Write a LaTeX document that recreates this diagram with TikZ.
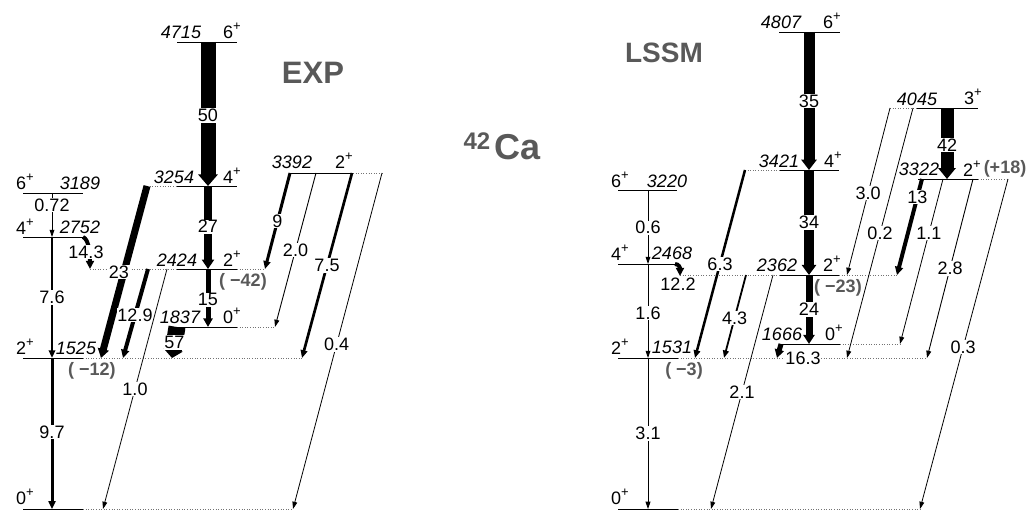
\documentclass[tikz,border=0pt]{standalone}
\usepackage{fontspec}
\setmainfont{Liberation Sans}
\usetikzlibrary{arrows.meta}
\definecolor{lgray}{gray}{0.35}
\newcommand\jp[1]{#1\raisebox{0.45em}{\fontsize{13}{13}\selectfont +}}
\begin{document}
\begin{tikzpicture}[x=1pt,y=-1pt,
  lvl/.style={line width=0.9pt},
  dotl/.style={dotted, line width=0.6pt, black!55},
  tr/.style={line width=#1, -{Triangle[length=7pt 0.3, width=4pt 1]}},
  lbl/.style={fill=white, inner sep=0.8pt, font=\fontsize{18}{19}\selectfont},
  txt/.style={inner sep=0pt, font=\fontsize{18}{19}\selectfont},
  en/.style={inner sep=0pt, font=\fontsize{18}{19}\selectfont\itshape},
  gl/.style={inner sep=0pt, font=\fontsize{18}{19}\selectfont\bfseries, text=lgray},
  ttl/.style={inner sep=0pt, font=\fontsize{28}{30}\selectfont\bfseries, text=lgray},
]
\useasboundingbox (0,0) rectangle (1036,510);

% ---------------- titles
\node[ttl, font=\fontsize{31}{33}\selectfont\bfseries] (exp) at (313,73) {EXP};
\node[ttl] (lssm) at (664,53) {LSSM};
\node[inner sep=0pt, text=lgray] (ca) at (502,146) {\fontsize{24}{26}\selectfont\bfseries\raisebox{10pt}{42}\,\fontsize{36}{40}\selectfont Ca};

% ================= EXP levels
\draw[lvl] (177,42) -- (237,42);
\draw[dotl] (147,186) -- (177,186); \draw[lvl] (177,186) -- (237,186);
\draw[lvl] (290,173) -- (353,173); \draw[dotl] (353,173) -- (382,173);
\draw[lvl] (23,193) -- (83,193);
\draw[lvl] (23,237) -- (83,237);
\draw[dotl] (90,269) -- (177,269); \draw[lvl] (177,269) -- (237,269); \draw[dotl] (237,269) -- (265,269);
\draw[lvl] (177,327) -- (237,327); \draw[dotl] (237,327) -- (275,327);
\draw[lvl] (23,358) -- (83,358); \draw[dotl] (83,358) -- (302,358);
\draw[lvl] (23,509) -- (83,509); \draw[dotl] (83,509) -- (293,509);

% EXP level labels
\node[en] (e4715) at (181,32) {4715}; \node[txt] (s4715) at (232,31) {\jp{6}};
\node[en] (e3254) at (174,177) {3254}; \node[txt] (s3254) at (232,176) {\jp{4}};
\node[en] (e3392) at (292,162) {3392}; \node[txt] (s3392) at (344,161) {\jp{2}};
\node[txt] (s3189) at (25,182) {\jp{6}}; \node[en] (e3189) at (80,183) {3189};
\node[txt] (s2752) at (25,227) {\jp{4}}; \node[en] (e2752) at (80,227) {2752};
\node[en] (e2424) at (177,260) {2424}; \node[txt] (s2424) at (232,259) {\jp{2}};
\node[en] (e1837) at (180,317) {1837}; \node[txt] (s1837) at (232,316) {\jp{0}};
\node[txt] (s1525) at (25,347) {\jp{2}}; \node[en] (e1525) at (76,348) {1525};
\node[txt] (s0a) at (25,497) {\jp{0}};
\node[gl] (q42) at (243,282) {( −42)};
\node[gl] (q12) at (92,371) {( −12)};

% EXP transition end points
\coordinate (a50) at (208,42);  \coordinate (b50) at (208,186);
\coordinate (a27) at (208,186); \coordinate (b27) at (208,269);
\coordinate (a15) at (208,269); \coordinate (b15) at (208,327);
\coordinate (a072) at (52,193); \coordinate (b072) at (52,237);
\coordinate (a76) at (52,237);  \coordinate (b76) at (52,358);
\coordinate (a97) at (52,358);  \coordinate (b97) at (52,509);
\coordinate (a143) at (83,237); \coordinate (b143) at (90,269);
\coordinate (a23) at (147,186); \coordinate (b23) at (101,358);
\coordinate (a129) at (148,269); \coordinate (b129) at (123,358);
\coordinate (a10) at (167,269); \coordinate (b10) at (103,509);
\coordinate (a57) at (177,327); \coordinate (b57) at (172,358);
\coordinate (a9) at (290,173);  \coordinate (b9) at (265,269);
\coordinate (a20) at (316,173); \coordinate (b20) at (275,327);
\coordinate (a75) at (352,173); \coordinate (b75) at (302,358);
\coordinate (a04) at (382,173); \coordinate (b04) at (293,509);

% EXP transitions
\draw[tr=15pt] (a50) -- node[lbl, pos=0.51] {50} (b50);
\draw[tr=8pt] (a27) -- node[lbl, pos=0.49] {27} (b27);
\draw[tr=5pt] (a15) -- node[lbl, pos=0.53] {15} (b15);
\draw[tr=0.8pt] (a072) -- node[lbl, pos=0.27] {0.72} (b072);
\draw[tr=2.4pt] (a76) -- node[lbl, pos=0.5] {7.6} (b76);
\draw[tr=3pt] (a97) -- node[lbl, pos=0.49] {9.7} (b97);
\draw[tr=4pt] (a143) .. controls (88,239) and (90,250) .. (b143);
\node[lbl] (l143) at (86,252) {14.3};
\draw[tr=7pt] (a23) -- node[lbl, pos=0.5, xshift=-5pt] {23} (b23);
\draw[tr=4pt] (a129) -- node[lbl, pos=0.52] {12.9} (b129);
\draw[tr=0.8pt] (a10) -- node[lbl, pos=0.5] {1.0} (b10);
\draw[-{Triangle[length=8pt, width=2pt 1]}, line width=17pt] (a57) -- node[lbl, pos=0.5] {57} (b57);
\draw[tr=3pt] (a9) -- node[lbl, pos=0.5] {9} (b9);
\draw[tr=0.9pt] (a20) -- node[lbl, pos=0.5] {2.0} (b20);
\draw[tr=2.7pt] (a75) -- node[lbl, pos=0.5] {7.5} (b75);
\draw[tr=0.8pt] (a04) -- node[lbl, pos=0.51] {0.4} (b04);

% ================= LSSM levels
\draw[lvl] (779,32) -- (840,32);
\draw[dotl] (890,108) -- (917,108); \draw[lvl] (917,108) -- (978,108);
\draw[dotl] (745,170) -- (780,170); \draw[lvl] (780,170) -- (839,170);
\draw[lvl] (918,179) -- (978,179); \draw[dotl] (978,179) -- (1008,179);
\draw[lvl] (618,190) -- (677,190);
\draw[lvl] (618,264) -- (677,264);
\draw[dotl] (680,275) -- (780,275); \draw[lvl] (780,275) -- (839,275); \draw[dotl] (839,275) -- (897,275);
\draw[lvl] (780,344) -- (840,344); \draw[dotl] (840,344) -- (900,344);
\draw[lvl] (618,358) -- (678,358); \draw[dotl] (678,358) -- (927,358);
\draw[lvl] (618,509) -- (678,509); \draw[dotl] (678,509) -- (920,509);

% LSSM level labels
\node[en] (e4807) at (781,22) {4807}; \node[txt] (s4807) at (832,21) {\jp{6}};
\node[en] (e3421) at (779,161) {3421}; \node[txt] (s3421) at (833,160) {\jp{4}};
\node[en] (e4045) at (917,99) {4045}; \node[txt] (s4045) at (973,97) {\jp{3}};
\node[en] (e3322) at (919,169) {3322}; \node[txt] (s3322) at (972,169) {\jp{2}};
\node[gl] (q18) at (1005,169) {(+18)};
\node[txt] (s3220) at (620,180) {\jp{6}}; \node[en] (e3220) at (667,181) {3220};
\node[txt] (s2468) at (620,253) {\jp{4}}; \node[en] (e2468) at (672,253) {2468};
\node[en] (e2362) at (777,265) {2362}; \node[txt] (s2362) at (832,264) {\jp{2}};
\node[gl] (q23) at (838,288) {( −23)};
\node[en] (e1666) at (782,334) {1666}; \node[txt] (s1666) at (834,333) {\jp{0}};
\node[txt] (s1531) at (620,347) {\jp{2}}; \node[en] (e1531) at (672,347) {1531};
\node[gl] (q3) at (684,371) {( −3)};
\node[txt] (s0b) at (620,497) {\jp{0}};

% LSSM transition end points
\coordinate (c35) at (809,32);  \coordinate (d35) at (809,170);
\coordinate (c34) at (809,170); \coordinate (d34) at (809,275);
\coordinate (c24) at (809,275); \coordinate (d24) at (809,344);
\coordinate (c06) at (648,190); \coordinate (d06) at (648,264);
\coordinate (c16) at (648,264); \coordinate (d16) at (648,358);
\coordinate (c31) at (648,358); \coordinate (d31) at (648,509);
\coordinate (c122) at (675,264); \coordinate (d122) at (680,276);
\coordinate (c63) at (745,170); \coordinate (d63) at (695,358);
\coordinate (c43) at (746,275); \coordinate (d43) at (724,358);
\coordinate (c21) at (773,275); \coordinate (d21) at (711,509);
\coordinate (c163) at (781,344); \coordinate (d163) at (777,358);
\coordinate (c30) at (890,108); \coordinate (d30) at (847,275);
\coordinate (c02) at (913,108); \coordinate (d02) at (847,358);
\coordinate (c42) at (947,108); \coordinate (d42) at (947,179);
\coordinate (c13) at (922,179); \coordinate (d13) at (897,275);
\coordinate (c11) at (943,179); \coordinate (d11) at (900,344);
\coordinate (c28) at (973,179); \coordinate (d28) at (927,358);
\coordinate (c03) at (1008,179); \coordinate (d03) at (920,509);

% LSSM transitions
\draw[tr=11pt] (c35) -- node[lbl, pos=0.5] {35} (d35);
\draw[tr=10pt] (c34) -- node[lbl, pos=0.5] {34} (d34);
\draw[tr=7pt] (c24) -- node[lbl, pos=0.5] {24} (d24);
\draw[tr=0.8pt] (c06) -- node[lbl, pos=0.51] {0.6} (d06);
\draw[tr=0.8pt] (c16) -- node[lbl, pos=0.52] {1.6} (d16);
\draw[tr=0.9pt] (c31) -- node[lbl, pos=0.5] {3.1} (d31);
\draw[tr=4pt] (c122) .. controls (679,264) and (680,268) .. (d122);
\node[lbl] (l122) at (678,284) {12.2};
\draw[tr=2.5pt] (c63) -- node[lbl, pos=0.5] {6.3} (d63);
\draw[tr=1.8pt] (c43) -- node[lbl, pos=0.52] {4.3} (d43);
\draw[tr=0.8pt] (c21) -- node[lbl, pos=0.5] {2.1} (d21);
\draw[tr=5pt] (c163) -- (d163);
\node[lbl] (l163) at (803,358) {16.3};
\draw[tr=0.8pt] (c30) -- node[lbl, pos=0.51] {3.0} (d30);
\draw[tr=0.8pt] (c02) -- node[lbl, pos=0.5] {0.2} (d02);
\draw[tr=13pt] (c42) -- node[lbl, pos=0.52] {42} (d42);
\draw[tr=4pt] (c13) -- node[lbl, pos=0.19] {13} (d13);
\draw[tr=0.8pt] (c11) -- node[lbl, pos=0.33] {1.1} (d11);
\draw[tr=0.9pt] (c28) -- node[lbl, pos=0.5] {2.8} (d28);
\draw[tr=0.8pt] (c03) -- node[lbl, pos=0.51] {0.3} (d03);
\end{tikzpicture}
\end{document}
